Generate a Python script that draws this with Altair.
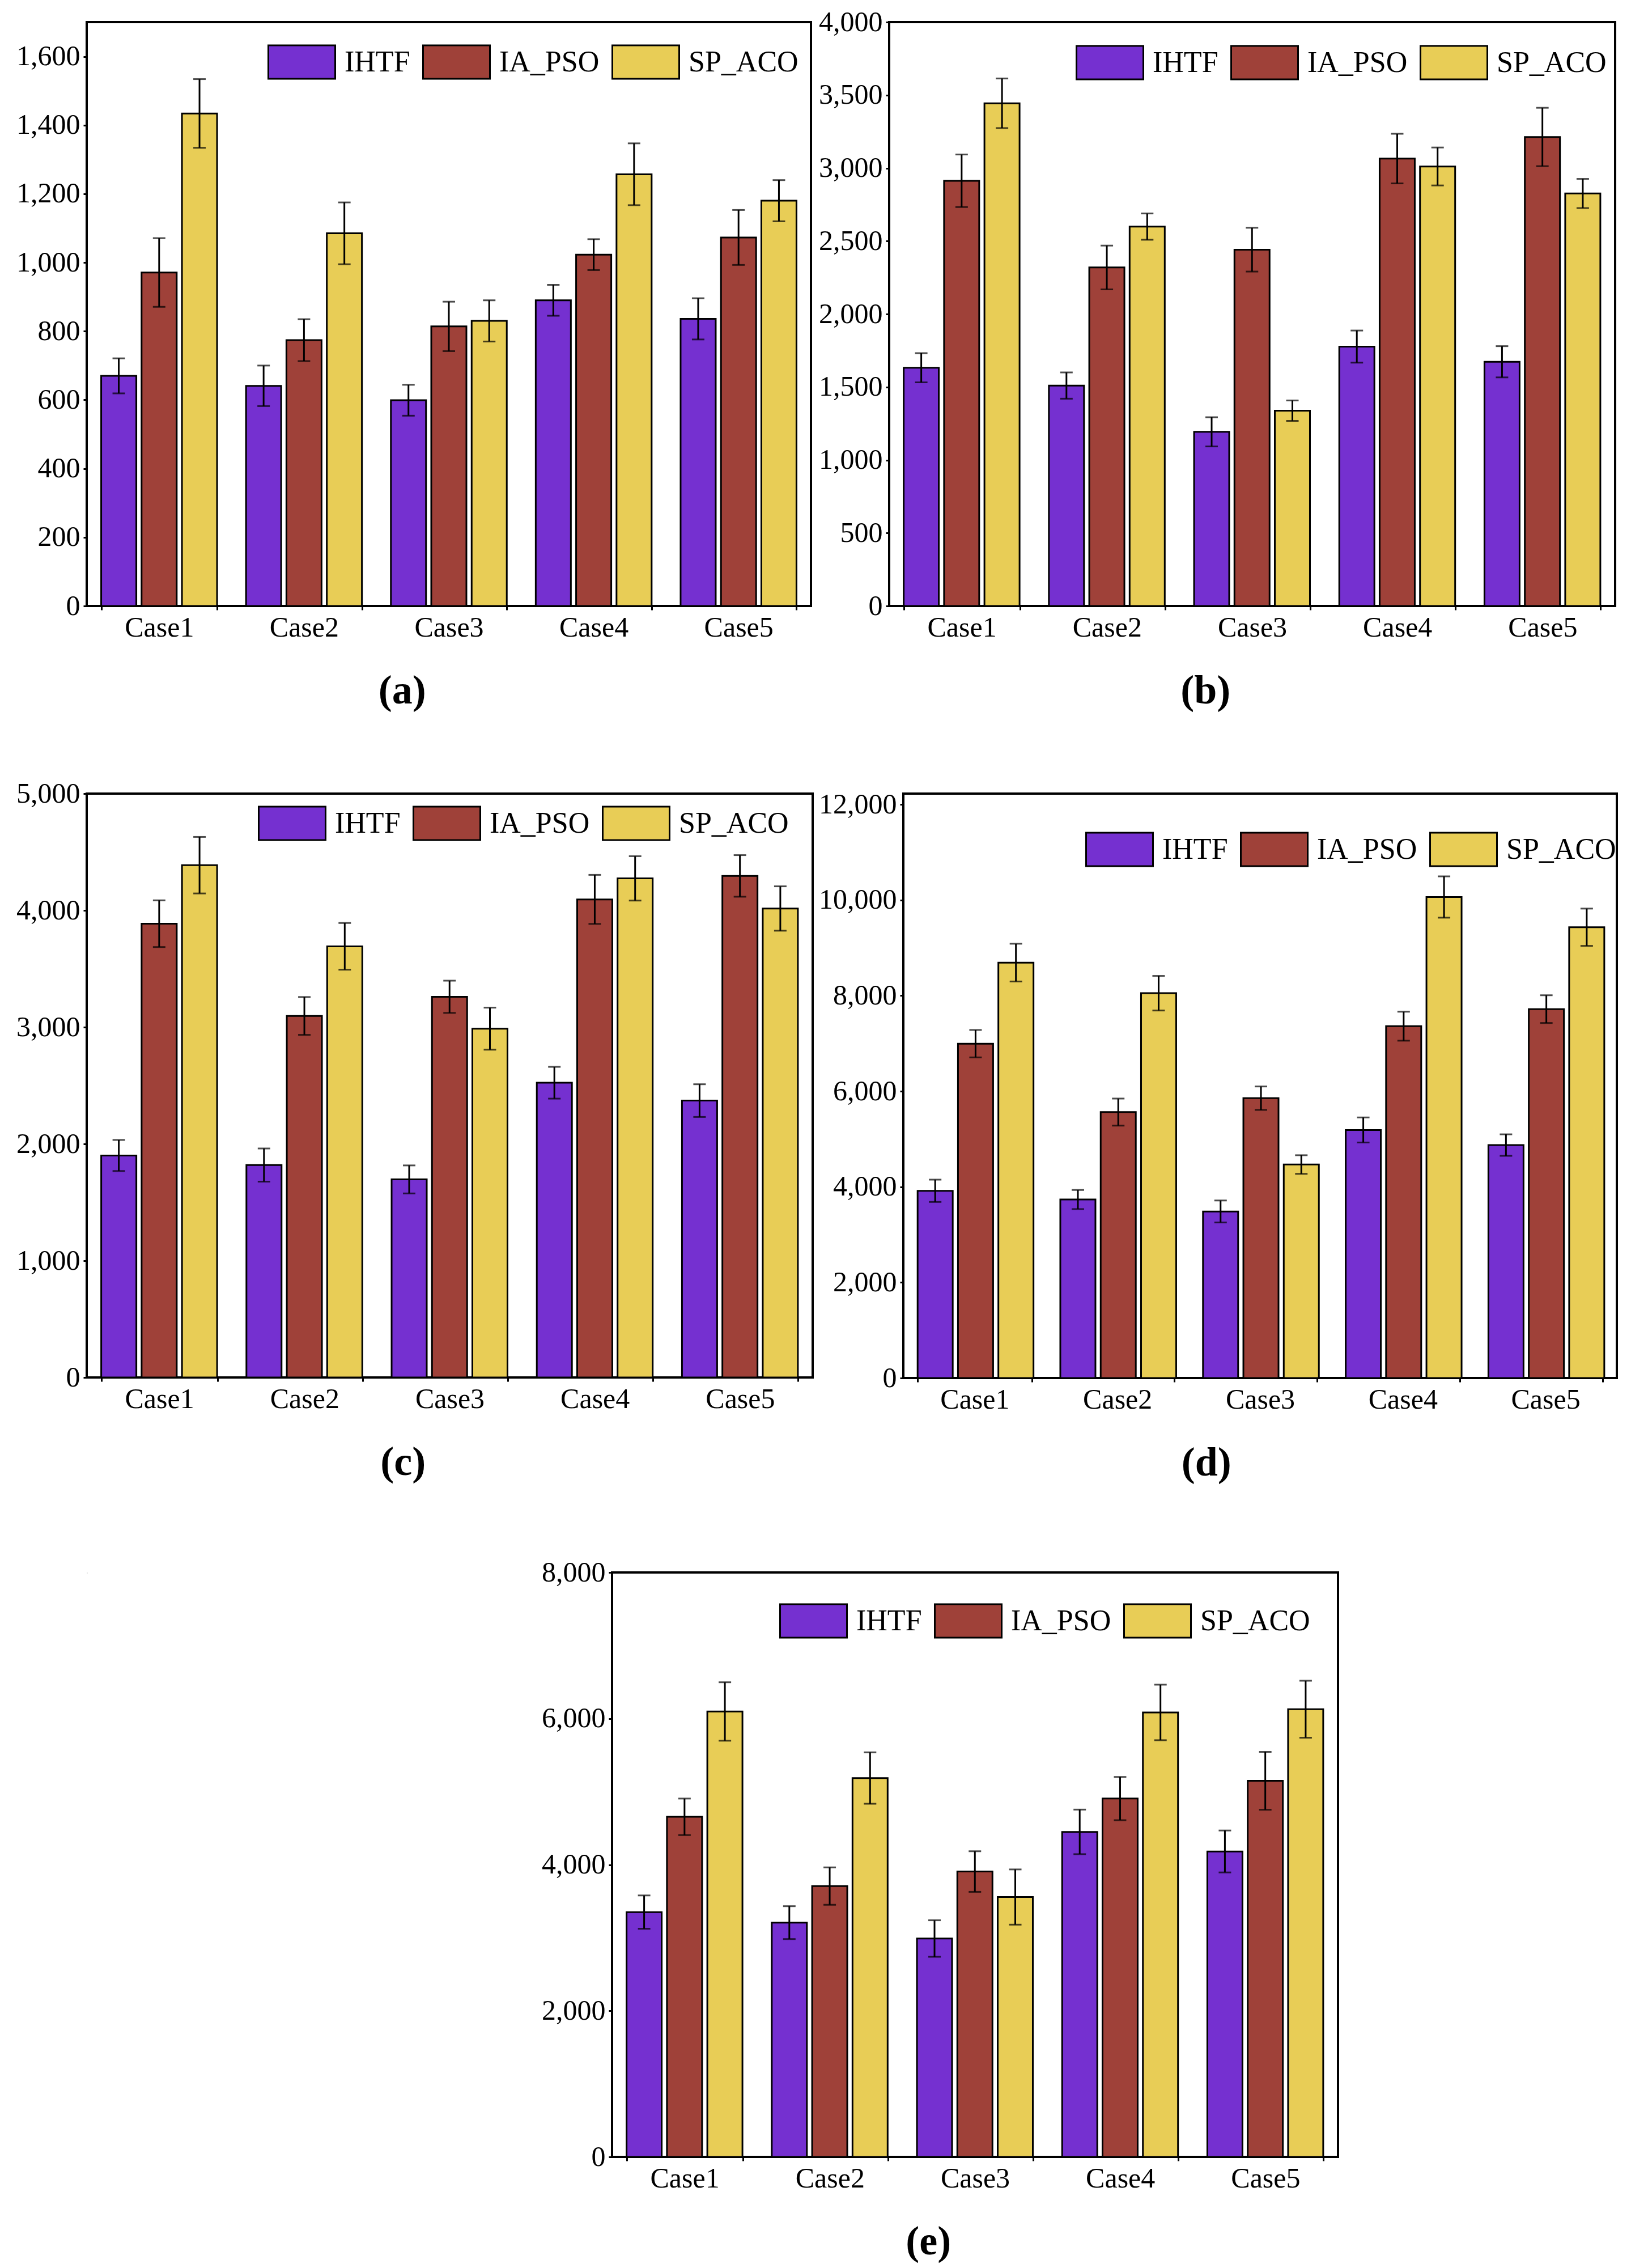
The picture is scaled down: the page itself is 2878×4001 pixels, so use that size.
import altair as alt
import pandas as pd

cases = ["Case1", "Case2", "Case3", "Case4", "Case5"]
methods = ["IHTF", "IA_PSO", "SP_ACO"]
colors = ["#7530d0", "#9f4139", "#e8cd56"]

# panel (a)
a_ihtf = [670, 641, 599, 890, 836]
a_ihtf_err = [51, 59, 45, 45, 60]
a_iapso = [971, 774, 814, 1023, 1073]
a_iapso_err = [100, 61, 72, 45, 80]
a_spaco = [1434, 1085, 830, 1257, 1180]
a_spaco_err = [100, 90, 60, 90, 60]

# panel (b)
b_ihtf = [1632, 1510, 1193, 1777, 1673]
b_ihtf_err = [100, 90, 100, 110, 107]
b_iapso = [2913, 2319, 2441, 3065, 3213]
b_iapso_err = [180, 150, 150, 170, 200]
b_spaco = [3444, 2599, 1338, 3011, 2826]
b_spaco_err = [170, 90, 70, 130, 100]

# panel (c)
c_ihtf = [1901, 1819, 1696, 2524, 2371]
c_ihtf_err = [133, 142, 120, 136, 140]
c_iapso = [3886, 3096, 3260, 4094, 4295]
c_iapso_err = [200, 162, 138, 210, 178]
c_spaco = [4387, 3692, 2987, 4274, 4016]
c_spaco_err = [242, 200, 180, 190, 190]

# panel (d)
d_ihtf = [3917, 3734, 3484, 5189, 4873]
d_ihtf_err = [233, 200, 230, 262, 225]
d_iapso = [6994, 5563, 5854, 7360, 7717]
d_iapso_err = [287, 283, 245, 303, 290]
d_spaco = [8690, 8050, 4466, 10062, 9430]
d_spaco_err = [395, 362, 195, 432, 390]

# panel (e)
e_ihtf = [3351, 3207, 2989, 4449, 4181]
e_ihtf_err = [228, 225, 250, 305, 287]
e_iapso = [4655, 3707, 3906, 4905, 5148]
e_iapso_err = [250, 256, 278, 296, 396]
e_spaco = [6097, 5186, 3557, 6084, 6128]
e_spaco_err = [400, 352, 378, 380, 390]

# axis settings per panel: (domain max, last tick, tick step)
a_axis = (1700, 1600, 200)
b_axis = (4000, 4000, 500)
c_axis = (5000, 5000, 1000)
d_axis = (12000, 12000, 2000)
e_axis = (8000, 8000, 2000)

FONT = "Liberation Serif"


def build(means, errs):
    rows = []
    for m, vals, es in zip(methods, means, errs):
        for c, v, e in zip(cases, vals, es):
            rows.append({"case": c, "method": m, "value": v, "lo": v - e, "hi": v + e})
    return pd.DataFrame(rows)


def panel(df, label, axis_cfg, w, h, leg_x, leg_y, top_gap=0):
    dmax, tmax, step = axis_cfg
    base = alt.Chart(df)
    x = alt.X(
        "case:N", sort=cases,
        scale=alt.Scale(paddingInner=0.2, paddingOuter=0.1),
        axis=alt.Axis(title=None, labelAngle=0, labelFont=FONT, labelFontSize=50,
                      labelColor="black", domain=False, tickBand="extent",
                      tickSize=7, tickWidth=3, tickColor="black", labelPadding=6,
                      grid=False),
    )
    xo = alt.XOffset("method:N", sort=methods,
                     scale=alt.Scale(domain=methods, paddingInner=0.13, paddingOuter=0))
    if top_gap:
        yscale = alt.Scale(domain=[0, dmax], nice=False, zero=True, range=[h, top_gap])
    else:
        yscale = alt.Scale(domain=[0, dmax], nice=False, zero=True)
    yaxis = alt.Axis(title=None, values=list(range(0, tmax + 1, step)), format=",d",
                     labelFont=FONT, labelFontSize=50, labelColor="black",
                     domain=False, grid=False, tickSize=6, tickWidth=3,
                     tickColor="black", labelPadding=6, labelFlush=False,
                     labelOverlap=False)
    bars = base.mark_bar(stroke="black", strokeWidth=3).encode(
        x=x, xOffset=xo,
        y=alt.Y("value:Q", scale=yscale, axis=yaxis),
        color=alt.Color(
            "method:N",
            scale=alt.Scale(domain=methods, range=colors),
            legend=alt.Legend(
                title=None, orient="none", legendX=leg_x, legendY=leg_y,
                direction="horizontal", padding=0,
                symbolType="M-1,-0.5H1V0.5H-1Z", symbolSize=13924,
                symbolStrokeColor="black", symbolStrokeWidth=3, symbolOpacity=1,
                labelFont=FONT, labelFontSize=52, labelColor="black",
                labelOffset=15, columnPadding=16, labelLimit=400,
            ),
        ),
    )
    rule = base.mark_rule(color="black", strokeWidth=3).encode(
        x=x, xOffset=xo,
        y=alt.Y("lo:Q", scale=yscale, axis=yaxis), y2="hi:Q",
    )
    cap_lo = base.mark_tick(color="black", thickness=3, size=22).encode(
        x=x, xOffset=xo, y=alt.Y("lo:Q", scale=yscale, axis=yaxis),
    )
    cap_hi = base.mark_tick(color="black", thickness=3, size=22).encode(
        x=x, xOffset=xo, y=alt.Y("hi:Q", scale=yscale, axis=yaxis),
    )
    return alt.layer(bars, rule, cap_lo, cap_hi).properties(
        width=w, height=h,
        view=alt.ViewBackground(stroke="black", strokeWidth=4),
        title=alt.TitleParams(label, orient="bottom", anchor="middle", frame="bounds",
                              font=FONT, fontSize=72, fontWeight="bold",
                              color="black", offset=52, dx=-20),
    )


def spacer():
    return alt.Chart(pd.DataFrame({"v": [0]})).mark_point(opacity=0, size=1).encode(
        x=alt.X("v:Q", axis=None), y=alt.Y("v:Q", axis=None)
    ).properties(width=1, height=1)


# legend positions (left edge / top edge offsets inside each plot)
pa = panel(build([a_ihtf, a_iapso, a_spaco], [a_ihtf_err, a_iapso_err, a_spaco_err]),
           "(a)", a_axis, 1278, 1030, 319, 10)
pb = panel(build([b_ihtf, b_iapso, b_spaco], [b_ihtf_err, b_iapso_err, b_spaco_err]),
           "(b)", b_axis, 1281, 1030, 329, 11)
pc = panel(build([c_ihtf, c_iapso, c_spaco], [c_ihtf_err, c_iapso_err, c_spaco_err]),
           "(c)", c_axis, 1281, 1030, 302, -8)
pdd = panel(build([d_ihtf, d_iapso, d_spaco], [d_ihtf_err, d_iapso_err, d_spaco_err]),
            "(d)", d_axis, 1259, 1031, 321, 38, top_gap=19)
pe = panel(build([e_ihtf, e_iapso, e_spaco], [e_ihtf_err, e_iapso_err, e_spaco_err]),
           "(e)", e_axis, 1281, 1031, 295, 25)

res = dict(color="independent", x="independent", y="independent")

row1 = alt.hconcat(pa, pb, spacing=138, bounds="flush").resolve_scale(**res)
row2 = alt.hconcat(pc, pdd, spacing=160, bounds="flush").resolve_scale(**res)
row3 = alt.hconcat(spacer(), pe, spacing=926, bounds="flush").resolve_scale(**res)
top = alt.vconcat(row1, row2, spacing=116).resolve_scale(**res)

chart = alt.vconcat(top, row3, spacing=128).resolve_scale(**res).properties(
    padding={"left": 18, "top": 4, "right": 10, "bottom": 10}
).configure_view(stroke="transparent").configure(background="white")

chart.save("out.html", embed_options={"renderer": "svg", "actions": False})
